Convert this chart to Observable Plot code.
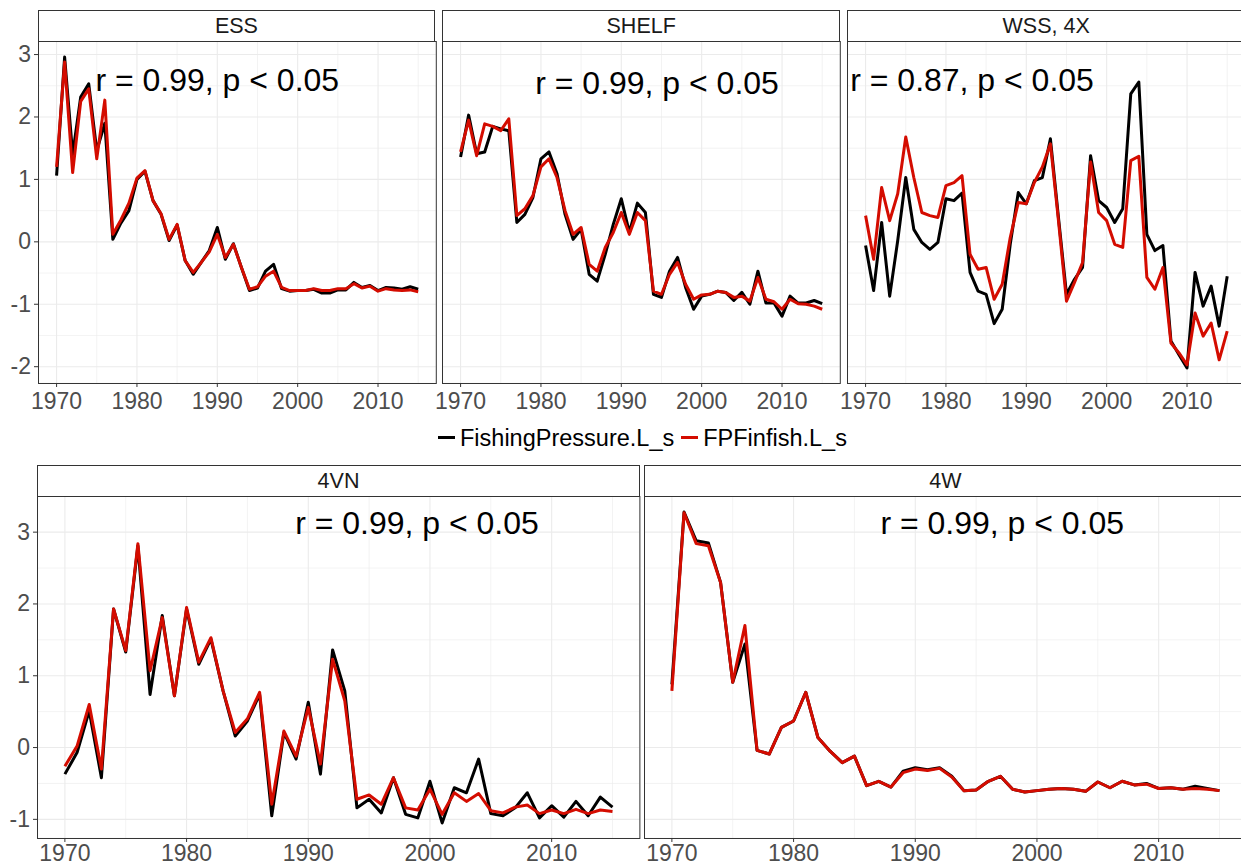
<!DOCTYPE html>
<html>
<head>
<meta charset="utf-8">
<script src="https://cdn.jsdelivr.net/npm/d3@7"></script>
<script src="https://cdn.jsdelivr.net/npm/@observablehq/plot@0.6"></script>
<style>
  html, body { margin: 0; padding: 0; background: #ffffff; overflow: hidden; }
  #chart { position: relative; width: 1241px; height: 865px; overflow: hidden; background: #ffffff;
           font-family: "Liberation Sans", Arial, sans-serif; }
  .strip { position: absolute; box-sizing: border-box; border: 1px solid #333333; border-bottom: none;
           background: #ffffff; color: #1a1a1a; font-size: 21.5px; text-align: center; }
  .panel { position: absolute; }
  .legend { position: absolute; display: flex; align-items: center; height: 24px; line-height: 24px;
            font-size: 23.5px; color: #000; white-space: nowrap; }
  .legend .key { display: inline-block; width: 17px; height: 3px; margin-right: 5px; }
  .legend .item { display: flex; align-items: center; margin-right: 7px; }
</style>
</head>
<body>
<div id="chart"></div>
<script>
// ---------------- data ----------------
const years = [1970,1971,1972,1973,1974,1975,1976,1977,1978,1979,
               1980,1981,1982,1983,1984,1985,1986,1987,1988,1989,
               1990,1991,1992,1993,1994,1995,1996,1997,1998,1999,
               2000,2001,2002,2003,2004,2005,2006,2007,2008,2009,
               2010,2011,2012,2013,2014,2015];

const seriesNames = ["FishingPressure.L_s", "FPFinfish.L_s"];
const panelNames = ["ESS", "SHELF", "WSS, 4X", "4VN", "4W"];
const corrTexts = ["r = 0.99, p < 0.05", "r = 0.99, p < 0.05", "r = 0.87, p < 0.05",
                   "r = 0.99, p < 0.05", "r = 0.99, p < 0.05"];

const essFP  = [1.06,2.96,1.40,2.32,2.53,1.46,1.90,0.04,0.30,0.50,
                1.00,1.13,0.66,0.44,0.02,0.27,-0.30,-0.52,-0.33,-0.14,
                0.23,-0.28,-0.03,-0.41,-0.78,-0.74,-0.47,-0.36,-0.75,-0.79,
                -0.78,-0.78,-0.76,-0.82,-0.82,-0.77,-0.77,-0.65,-0.73,-0.70,
                -0.78,-0.73,-0.74,-0.76,-0.72,-0.76];
const essFin = [1.20,2.88,1.11,2.25,2.45,1.33,2.27,0.12,0.35,0.62,
                1.02,1.14,0.66,0.45,0.04,0.28,-0.30,-0.49,-0.33,-0.16,
                0.12,-0.25,-0.04,-0.41,-0.76,-0.72,-0.55,-0.47,-0.73,-0.78,
                -0.78,-0.78,-0.75,-0.78,-0.78,-0.75,-0.75,-0.67,-0.74,-0.71,
                -0.79,-0.75,-0.77,-0.78,-0.77,-0.80];

const shelfFP  = [1.36,2.03,1.41,1.44,1.85,1.81,1.78,0.31,0.44,0.71,
                  1.33,1.44,1.09,0.44,0.04,0.20,-0.52,-0.63,-0.20,0.28,
                  0.69,0.15,0.62,0.47,-0.84,-0.89,-0.47,-0.25,-0.73,-1.08,
                  -0.87,-0.84,-0.79,-0.81,-0.94,-0.81,-1.00,-0.47,-0.98,-0.98,
                  -1.19,-0.87,-0.98,-0.98,-0.94,-0.99];
const shelfFin = [1.44,1.95,1.38,1.89,1.85,1.78,1.97,0.42,0.53,0.74,
                  1.20,1.33,1.03,0.50,0.12,0.23,-0.36,-0.47,-0.09,0.15,
                  0.47,0.12,0.47,0.34,-0.79,-0.84,-0.52,-0.33,-0.68,-0.92,
                  -0.85,-0.84,-0.79,-0.81,-0.89,-0.87,-0.95,-0.57,-0.92,-0.96,
                  -1.08,-0.92,-0.99,-1.00,-1.03,-1.08];

const wssFP  = [-0.06,-0.78,0.31,-0.87,0.02,1.03,0.20,-0.01,-0.12,-0.01,
                0.69,0.66,0.78,-0.49,-0.79,-0.84,-1.31,-1.08,-0.04,0.79,
                0.61,0.98,1.03,1.65,0.39,-0.84,-0.60,-0.41,1.38,0.66,
                0.55,0.31,0.53,2.37,2.56,0.12,-0.14,-0.06,-1.59,-1.81,
                -2.02,-0.49,-1.03,-0.71,-1.35,-0.55];
const wssFin = [0.42,-0.28,0.87,0.34,0.77,1.68,1.03,0.47,0.42,0.39,
                0.90,0.95,1.06,-0.20,-0.44,-0.41,-0.92,-0.68,0.07,0.63,
                0.61,0.95,1.20,1.57,0.34,-0.95,-0.65,-0.33,1.28,0.47,
                0.34,-0.04,-0.09,1.30,1.37,-0.57,-0.76,-0.41,-1.62,-1.78,
                -1.97,-1.14,-1.51,-1.30,-1.89,-1.43];

const vnFP  = [-0.37,-0.07,0.51,-0.42,1.93,1.33,2.81,0.74,1.84,0.72,
               1.93,1.16,1.51,0.79,0.16,0.37,0.74,-0.95,0.21,-0.16,
               0.63,-0.37,1.36,0.79,-0.84,-0.72,-0.91,-0.42,-0.93,-0.98,
               -0.47,-1.05,-0.56,-0.63,-0.16,-0.92,-0.95,-0.84,-0.63,-0.98,
               -0.81,-0.97,-0.75,-0.95,-0.69,-0.83];
const vnFin = [-0.26,0.02,0.60,-0.30,1.93,1.35,2.84,1.07,1.81,0.72,
               1.95,1.19,1.53,0.79,0.21,0.40,0.77,-0.79,0.23,-0.12,
               0.56,-0.23,1.23,0.65,-0.72,-0.66,-0.79,-0.42,-0.84,-0.87,
               -0.58,-0.93,-0.63,-0.75,-0.64,-0.88,-0.91,-0.83,-0.80,-0.92,
               -0.87,-0.92,-0.86,-0.92,-0.87,-0.89];

const wFP  = [0.88,3.28,2.88,2.85,2.30,0.91,1.44,-0.04,-0.09,0.28,
              0.37,0.77,0.14,-0.05,-0.21,-0.12,-0.53,-0.47,-0.55,-0.33,
              -0.28,-0.31,-0.28,-0.40,-0.60,-0.59,-0.47,-0.40,-0.58,-0.62,
              -0.60,-0.58,-0.57,-0.58,-0.61,-0.48,-0.56,-0.47,-0.52,-0.50,
              -0.57,-0.56,-0.58,-0.54,-0.57,-0.60];
const wFin = [0.79,3.27,2.84,2.81,2.30,0.91,1.70,-0.04,-0.09,0.28,
              0.37,0.77,0.14,-0.05,-0.21,-0.12,-0.53,-0.47,-0.55,-0.35,
              -0.30,-0.32,-0.29,-0.41,-0.60,-0.59,-0.47,-0.40,-0.58,-0.62,
              -0.60,-0.58,-0.57,-0.58,-0.61,-0.48,-0.56,-0.47,-0.52,-0.51,
              -0.57,-0.56,-0.58,-0.57,-0.58,-0.60];

// tick labels
const xTicks = [1970, 1980, 1990, 2000, 2010];
const xMinor = [1975, 1985, 1995, 2005, 2015];
const yTicksTop = [-2, -1, 0, 1, 2, 3];
const yMinorTop = [-1.5, -0.5, 0.5, 1.5, 2.5];
const yTicksBottom = [-1, 0, 1, 2, 3];
const yMinorBottom = [-0.5, 0.5, 1.5, 2.5];

// where each correlation label sits, in data units (year, value)
const corrYear  = [1974.84, 1979.29, 1968.09, 1988.92, 1987.14];
const corrValue = [2.573, 2.525, 2.576, 3.118, 3.118];

// ---------------- layout ----------------
const colors = ["#000000", "#d40c00"];
const font = '"Liberation Sans", Arial, sans-serif';
const rows = [
  {stripTop: 10,  frameTop: 40.7,  frameH: 342, frameW: 397.8, yTicks: yTicksTop,    yMinor: yMinorTop,    xPad: 5},
  {stripTop: 465, frameTop: 495.7, frameH: 342, frameW: 602.4, yTicks: yTicksBottom, yMinor: yMinorBottom, xPad: 2}
];
const panels = [
  {i: 0, fp: essFP,   fin: essFin,   row: 0, left: 37.5,  showY: true},
  {i: 1, fp: shelfFP, fin: shelfFin, row: 0, left: 442.3, showY: false},
  {i: 2, fp: wssFP,   fin: wssFin,   row: 0, left: 847.3, showY: false},
  {i: 3, fp: vnFP,    fin: vnFin,    row: 1, left: 37.3,  showY: true},
  {i: 4, fp: wFP,     fin: wFin,     row: 1, left: 644.3, showY: false}
];

// ggplot-like 5% expansion
function expand(ext) { const d = (ext[1] - ext[0]) * 0.05; return [ext[0] - d, ext[1] + d]; }
const xDomain = expand(d3.extent(years));
rows.forEach((r, ri) => {
  const vals = panels.filter(p => p.row === ri).flatMap(p => p.fp.concat(p.fin));
  r.yDomain = expand(d3.extent(vals));
});

const chart = document.getElementById("chart");

panels.forEach(p => {
  const r = rows[p.row];
  const mL = 45, mR = 2, mT = 1, mB = 40;
  const data = [];
  years.forEach((y, k) => data.push({year: y, value: p.fp[k], series: seriesNames[0]}));
  years.forEach((y, k) => data.push({year: y, value: p.fin[k], series: seriesNames[1]}));

  const marks = [
    Plot.ruleX(xMinor, {stroke: "#ebebeb", strokeWidth: 0.6}),
    Plot.ruleY(r.yMinor, {stroke: "#ebebeb", strokeWidth: 0.6}),
    Plot.ruleX(xTicks, {stroke: "#ebebeb", strokeWidth: 1.1}),
    Plot.ruleY(r.yTicks, {stroke: "#ebebeb", strokeWidth: 1.1}),
    Plot.line(data, {x: "year", y: "value", stroke: "series", z: "series",
                     strokeWidth: 3, strokeLinejoin: "round", strokeLinecap: "butt"}),
    Plot.text([{x: corrYear[p.i], y: corrValue[p.i], t: corrTexts[p.i]}],
              {x: "x", y: "y", text: "t", textAnchor: "start", lineAnchor: "middle",
               fontSize: 32, fill: "#000000", fontFamily: font}),
    Plot.frame({stroke: "#333333", strokeWidth: 1}),
    Plot.axisX({ticks: xTicks, tickSize: 4, tickPadding: r.xPad, tickFormat: d => String(d),
                stroke: "#333333", fill: "#4d4d4d", fontSize: 23, label: null, fontFamily: font})
  ];
  if (p.showY) {
    marks.push(Plot.axisY({ticks: r.yTicks, tickSize: 4, tickPadding: 3.5, tickFormat: d => String(d),
                           stroke: "#333333", fill: "#4d4d4d", fontSize: 23, label: null, fontFamily: font}));
  }

  const svg = Plot.plot({
    width: mL + r.frameW + mR,
    height: mT + r.frameH + mB,
    marginLeft: mL, marginRight: mR, marginTop: mT, marginBottom: mB,
    style: {background: "transparent", overflow: "visible", fontFamily: font, maxWidth: "none"},
    x: {domain: xDomain, axis: null, label: null},
    y: {domain: r.yDomain, axis: null, label: null},
    color: {domain: seriesNames, range: colors},
    marks
  });
  svg.classList.add("panel");
  svg.style.left = (p.left - mL) + "px";
  svg.style.top = (r.frameTop - mT) + "px";
  chart.appendChild(svg);

  const strip = document.createElement("div");
  strip.className = "strip";
  strip.style.left = p.left + "px";
  strip.style.top = r.stripTop + "px";
  strip.style.width = r.frameW + "px";
  strip.style.height = (r.frameTop - r.stripTop) + "px";
  strip.style.lineHeight = (r.frameTop - r.stripTop) + "px";
  strip.textContent = panelNames[p.i];
  chart.appendChild(strip);
});

// legend
const legend = document.createElement("div");
legend.className = "legend";
legend.style.left = "438px";
legend.style.top = "425.7px";
seriesNames.forEach((s, k) => {
  const item = document.createElement("span");
  item.className = "item";
  const key = document.createElement("span");
  key.className = "key";
  key.style.background = colors[k];
  const label = document.createElement("span");
  label.textContent = s;
  item.appendChild(key);
  item.appendChild(label);
  legend.appendChild(item);
});
chart.appendChild(legend);
</script>
</body>
</html>
